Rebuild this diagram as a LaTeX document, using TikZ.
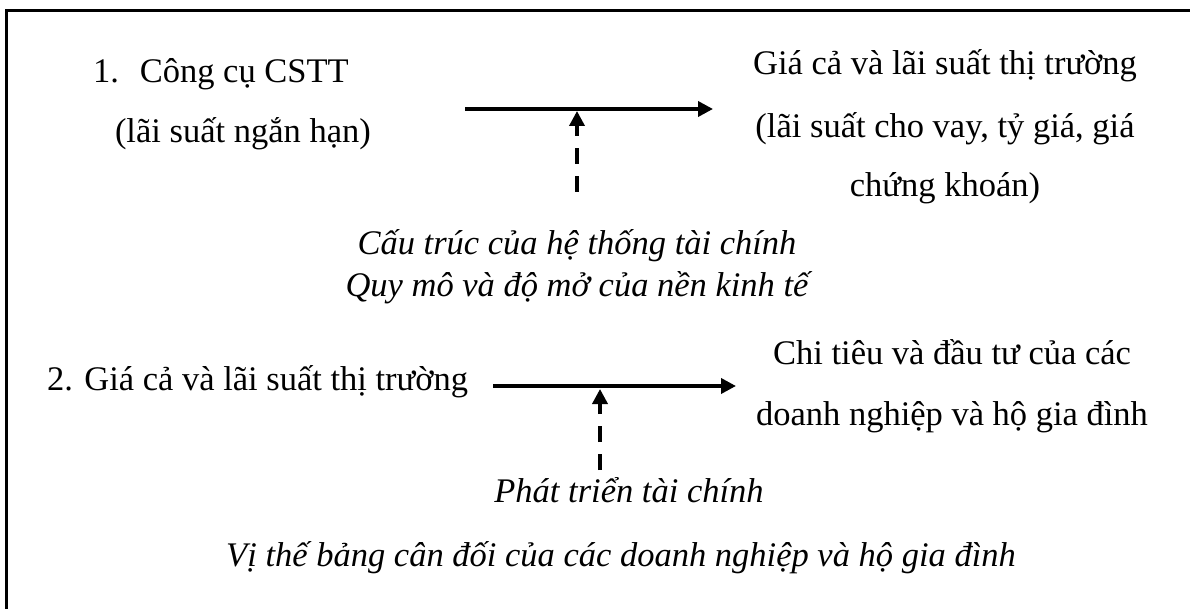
\documentclass[tikz,border=0pt]{standalone}
\usepackage{fontspec}
\setmainfont{Liberation Serif}
\usetikzlibrary{arrows.meta}
\begin{document}
\begin{tikzpicture}[x=1pt,y=1pt,
  txt/.style={inner sep=0pt,outer sep=0pt,font=\fontsize{34.5}{40}\selectfont},
  itxt/.style={txt,font=\fontsize{34.5}{40}\selectfont\itshape},
  mainarrow/.style={line width=3.6pt,-{Triangle[length=15pt,width=15pt]}},
  dasharrow/.style={line width=3.6pt,dash pattern=on 16pt off 12pt,-{Triangle[length=15pt,width=15pt]}},
  frame/.style={line width=3pt,line join=miter}]
\useasboundingbox (0,0) rectangle (1190,-609);
\draw[frame] (6,-609) -- (6,-11) -- (1190,-11);
% row 1
\node[txt,anchor=base west] (t1a) at (93,-83) {1.\hspace{21pt}Công cụ CSTT};
\node[txt,anchor=base west] (t1b) at (115,-143) {(lãi suất ngắn hạn)};
\node[txt,anchor=base] (r1a) at (945,-75) {Giá cả và lãi suất thị trường};
\node[txt,anchor=base] (r1b) at (945,-138) {(lãi suất cho vay, tỷ giá, giá};
\node[txt,anchor=base] (r1c) at (945,-197) {chứng khoán)};
\node[itxt,anchor=base] (i1a) at (577,-255) {Cấu trúc của hệ thống tài chính};
\node[itxt,anchor=base] (i1b) at (577,-297) {Quy mô và độ mở của nền kinh tế};
\coordinate (a1s) at (465,-109);
\coordinate (a1e) at (713,-109);
\coordinate (d1s) at (577,-192);
\coordinate (d1e) at (577,-111);
\draw[mainarrow] (a1s) -- (a1e);
\draw[dasharrow] (d1s) -- (d1e);
% row 2
\node[txt,anchor=base west] (t2) at (47,-390) {2. Giá cả và lãi suất thị trường};
\node[txt,anchor=base] (r2a) at (952,-364) {Chi tiêu và đầu tư của các};
\node[txt,anchor=base] (r2b) at (952,-425) {doanh nghiệp và hộ gia đình};
\node[itxt,anchor=base] (i2a) at (629,-502) {Phát triển tài chính};
\node[itxt,anchor=base] (i2b) at (621,-566) {Vị thế bảng cân đối của các doanh nghiệp và hộ gia đình};
\coordinate (a2s) at (493,-386);
\coordinate (a2e) at (736,-386);
\coordinate (d2s) at (600,-470);
\coordinate (d2e) at (600,-389);
\draw[mainarrow] (a2s) -- (a2e);
\draw[dasharrow] (d2s) -- (d2e);
\end{tikzpicture}
\end{document}
